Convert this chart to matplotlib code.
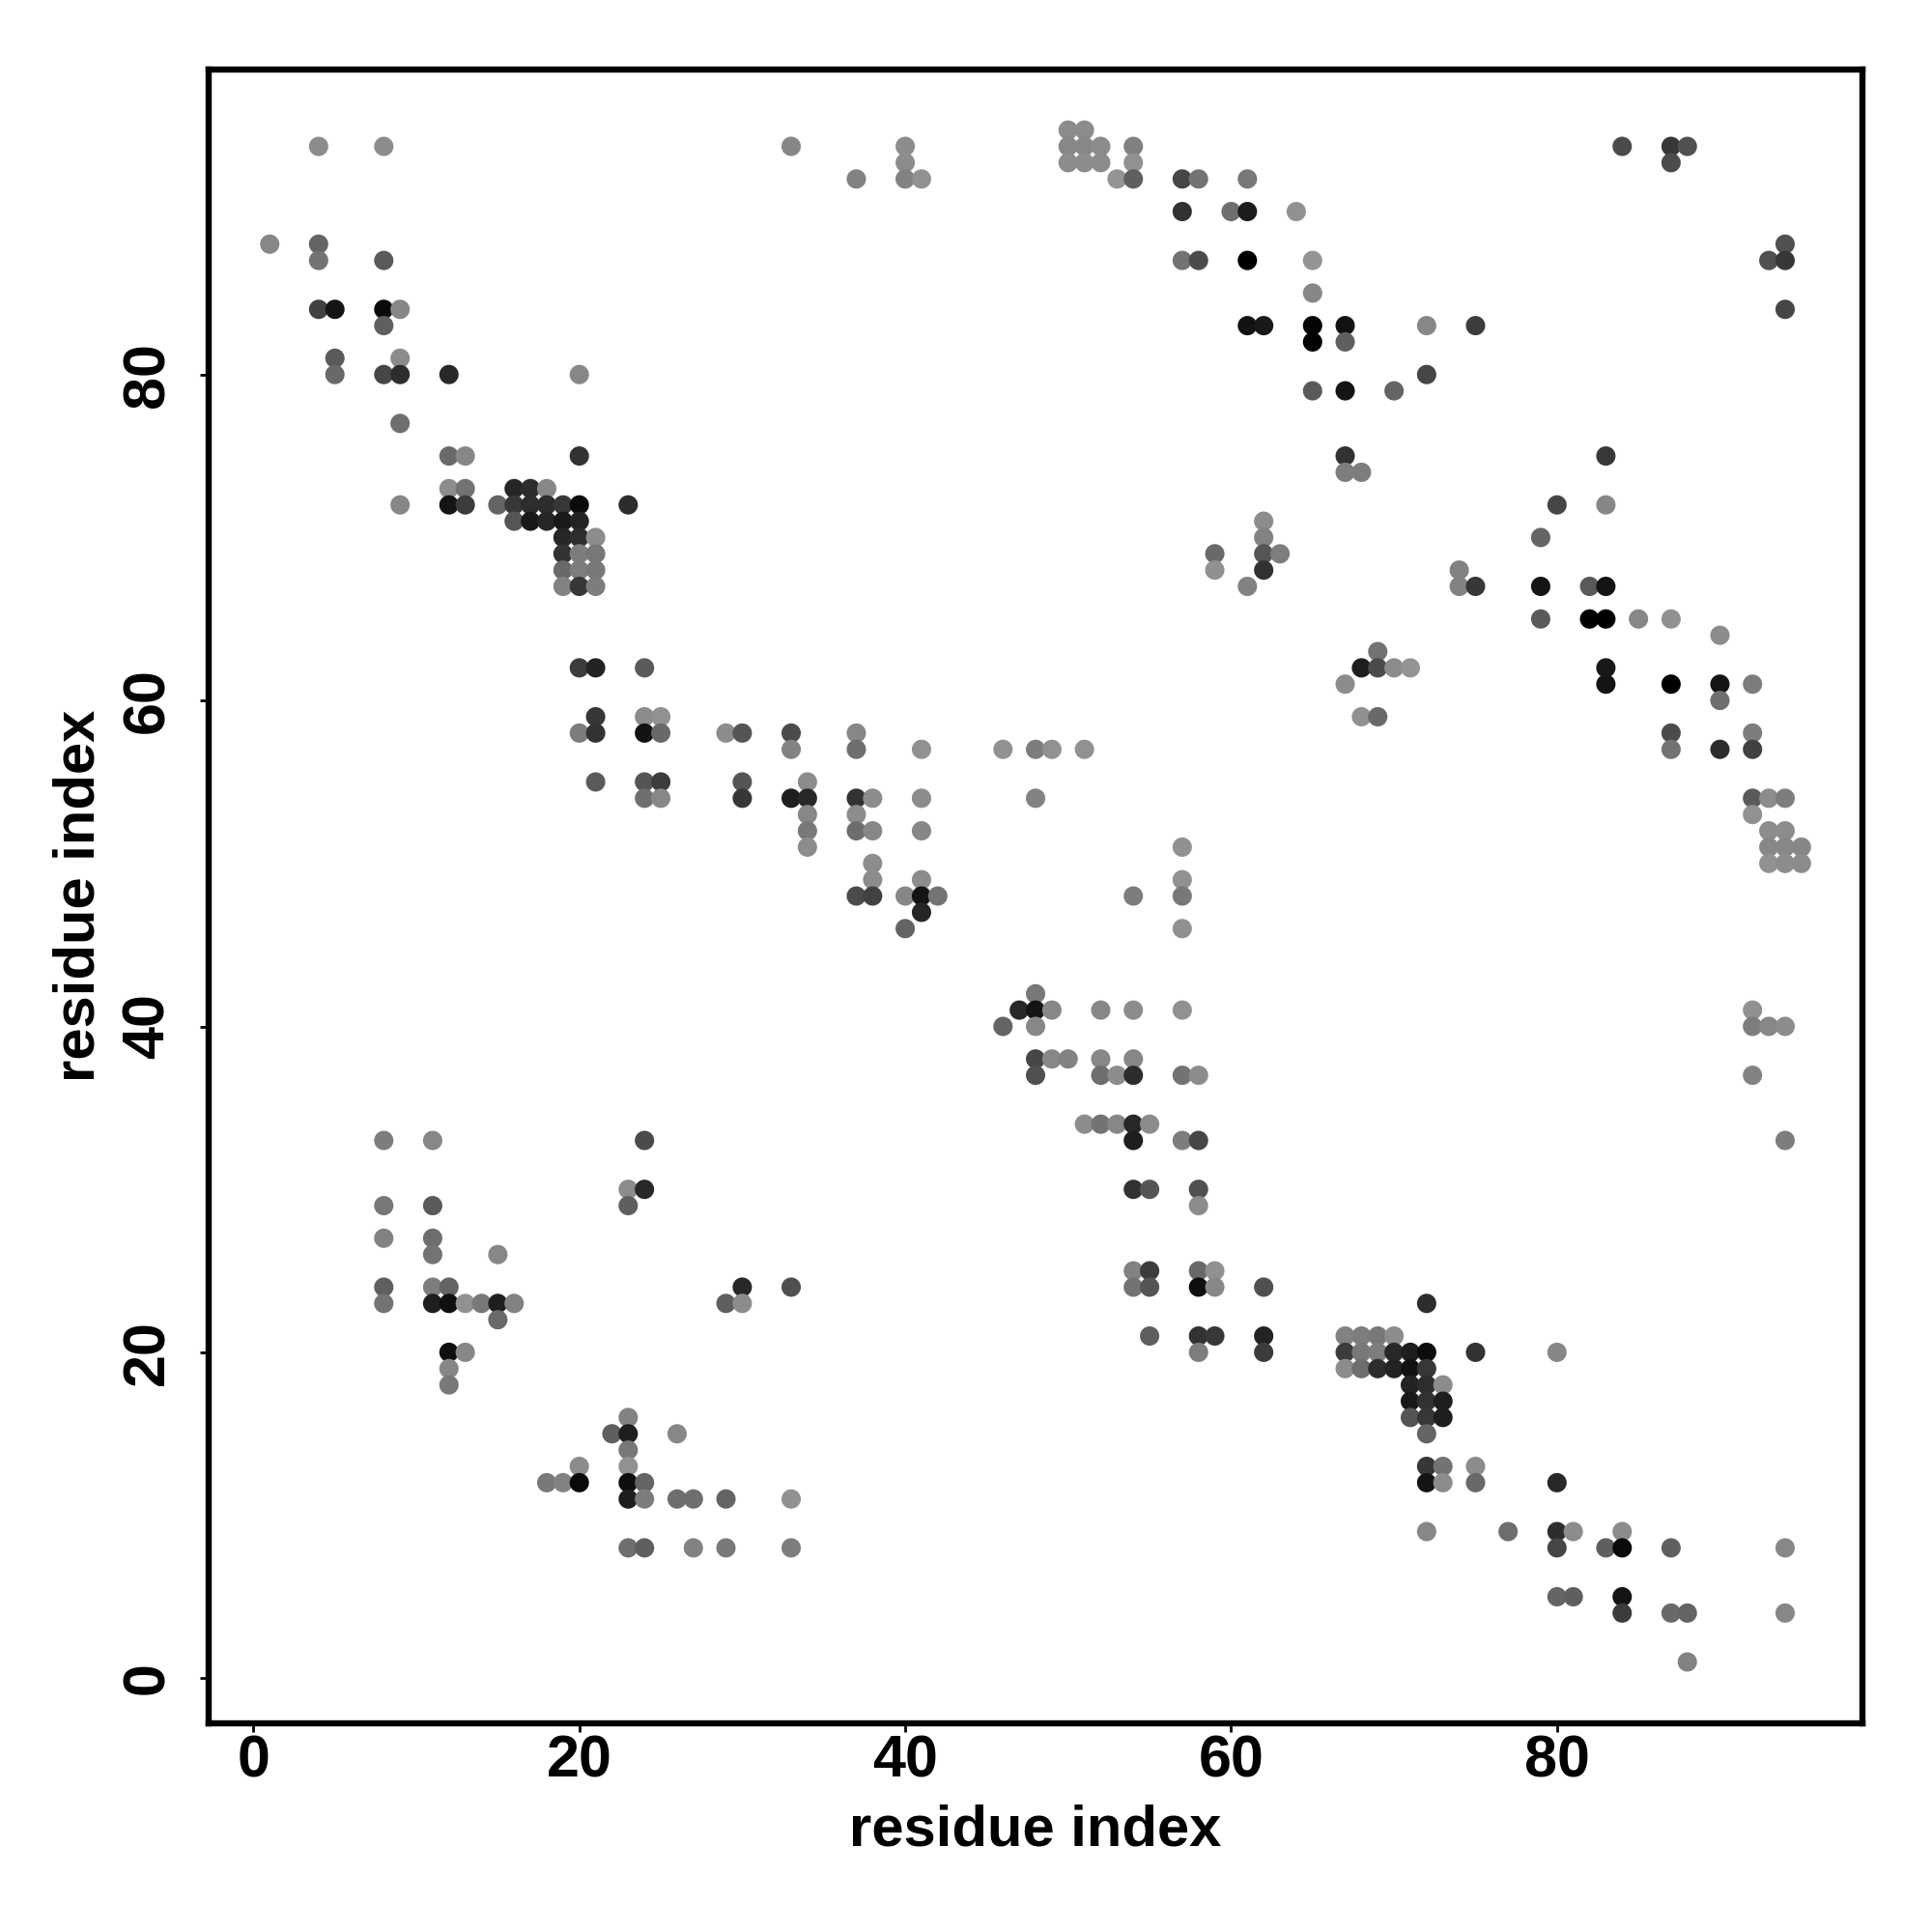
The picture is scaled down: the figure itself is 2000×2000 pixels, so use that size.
import matplotlib
matplotlib.use("Agg")
import matplotlib.pyplot as plt

row_y = [95, 94, 93, 92, 90, 88, 87, 85, 84, 83, 82, 81, 80, 79, 77, 75, 74, 73, 72, 71, 70, 69, 68, 67,
         65, 64, 63, 62, 61, 60, 59, 58, 57, 55, 54, 53, 52, 51, 50, 49, 48, 47, 46, 42, 41, 40, 38, 37,
         34, 33, 30, 29, 27, 26, 25, 24, 23, 22, 21, 20, 19, 18, 17, 16, 15, 14, 13, 12, 11, 9, 8, 5, 4, 1]

row_x = [
    [50, 51],
    [4, 8, 33, 40, 50, 51, 52, 54, 84, 87, 88],
    [40, 50, 51, 52, 54, 87],
    [37, 40, 41, 53, 54, 57, 58, 61],
    [57, 60, 61, 64],
    [1, 4, 94],
    [4, 8, 57, 58, 61, 65, 93, 94],
    [65],
    [4, 5, 8, 9, 94],
    [8, 61, 62, 65, 67, 72, 75],
    [65, 67],
    [5, 9],
    [5, 8, 9, 12, 20, 72],
    [65, 67, 70],
    [9],
    [12, 13, 20, 67, 83],
    [67, 68],
    [12, 13, 16, 17, 18],
    [9, 12, 13, 15, 16, 17, 18, 19, 20, 23, 80, 83],
    [16, 17, 18, 19, 20, 62],
    [19, 20, 21, 62, 79],
    [19, 20, 21, 59, 62, 63],
    [19, 20, 21, 59, 62, 74],
    [19, 20, 21, 61, 74, 75, 79, 82, 83],
    [79, 82, 83, 85, 87],
    [90],
    [69],
    [20, 21, 24, 68, 69, 70, 71, 83],
    [67, 83, 87, 90, 92],
    [90],
    [21, 24, 25, 68, 69],
    [20, 21, 24, 25, 29, 30, 33, 37, 87, 92],
    [33, 37, 41, 46, 48, 49, 51, 87, 90, 92],
    [21, 24, 25, 30, 34],
    [24, 25, 30, 33, 34, 37, 38, 41, 48, 92, 93, 94],
    [34, 37, 92],
    [34, 37, 38, 41, 93, 94],
    [34, 57, 93, 94, 95],
    [38, 93, 94, 95],
    [38, 41, 57],
    [37, 38, 40, 41, 42, 54, 57],
    [41],
    [40, 57],
    [48],
    [47, 48, 49, 52, 54, 57, 92],
    [46, 48, 92, 93, 94],
    [48, 49, 50, 52, 54],
    [48, 52, 53, 54, 57, 58, 92],
    [51, 52, 53, 54, 55],
    [8, 11, 24, 54, 57, 58, 94],
    [23, 24, 54, 55, 58],
    [8, 11, 23, 58],
    [8, 11],
    [11, 15],
    [54, 55, 58, 59],
    [8, 11, 12, 30, 33, 54, 55, 58, 59, 62],
    [8, 11, 12, 13, 14, 15, 16, 29, 30, 72],
    [15],
    [55, 58, 59, 62, 67, 68, 69, 70],
    [12, 13, 58, 62, 67, 68, 69, 70, 71, 72, 75, 80],
    [12, 67, 68, 69, 70, 71, 72],
    [12, 71, 72, 73],
    [71, 72, 73],
    [23, 71, 72, 73],
    [22, 23, 26, 72],
    [23],
    [20, 23, 72, 73, 75],
    [18, 19, 20, 23, 24, 72, 73, 75, 80],
    [23, 24, 26, 27, 29, 33],
    [72, 77, 80, 81, 84],
    [23, 24, 27, 29, 33, 80, 83, 84, 87, 94],
    [80, 81, 84],
    [84, 87, 88, 94],
    [88],
]

row_grey = [
    [140, 140],
    [140, 140, 135, 140, 135, 135, 140, 128, 75, 55, 80],
    [140, 140, 140, 140, 145, 75],
    [130, 130, 145, 148, 95, 70, 115, 120],
    [50, 110, 28, 145],
    [135, 100, 80],
    [115, 90, 115, 75, 0, 148, 80, 55],
    [135],
    [65, 20, 10, 135, 70],
    [95, 18, 25, 5, 18, 135, 60],
    [3, 95],
    [90, 140],
    [105, 70, 45, 40, 135, 70],
    [90, 20, 100],
    [110],
    [105, 135, 50, 50, 55],
    [125, 125],
    [140, 115, 38, 45, 135],
    [135, 20, 60, 100, 55, 45, 45, 55, 12, 45, 70, 135],
    [85, 25, 38, 25, 35, 140],
    [38, 45, 140, 130, 100],
    [50, 125, 120, 105, 85, 125],
    [105, 125, 120, 145, 50, 130],
    [130, 55, 125, 130, 130, 55, 20, 90, 20],
    [90, 0, 0, 135, 145],
    [140],
    [115],
    [60, 35, 90, 30, 75, 140, 148, 25],
    [140, 20, 0, 20, 125],
    [110],
    [55, 140, 145, 145, 105],
    [125, 50, 18, 105, 140, 85, 75, 135, 75, 125],
    [130, 110, 145, 145, 125, 145, 145, 115, 45, 65],
    [90, 85, 60, 85, 140],
    [110, 135, 55, 30, 40, 50, 140, 140, 130, 90, 140, 125],
    [135, 140, 145],
    [120, 110, 135, 135, 140, 140],
    [140, 145, 135, 135, 135],
    [140, 145, 140, 140],
    [140, 140, 145],
    [75, 65, 135, 20, 115, 125, 120],
    [38],
    [100, 145],
    [120],
    [40, 20, 135, 135, 140, 145, 145],
    [100, 135, 125, 135, 140],
    [70, 135, 130, 135, 135],
    [80, 110, 140, 45, 115, 140, 130],
    [140, 115, 135, 40, 140],
    [125, 135, 75, 30, 125, 70, 125],
    [140, 40, 50, 85, 80],
    [120, 90, 95, 140],
    [130, 110],
    [115, 135],
    [130, 60, 105, 145],
    [95, 125, 100, 40, 80, 115, 85, 15, 135, 80],
    [115, 30, 15, 145, 120, 30, 130, 95, 140, 45],
    [105],
    [95, 50, 55, 35, 130, 125, 120, 140],
    [15, 135, 125, 60, 60, 120, 125, 40, 30, 12, 50, 135],
    [135, 140, 110, 45, 35, 18, 55],
    [120, 35, 45, 140],
    [25, 50, 30],
    [130, 85, 55, 30],
    [95, 30, 135, 100],
    [120],
    [140, 145, 55, 115, 140],
    [120, 130, 10, 15, 100, 20, 140, 105, 40],
    [30, 125, 110, 110, 100, 145],
    [135, 110, 45, 140, 140],
    [110, 95, 130, 120, 125, 70, 95, 10, 95, 135],
    [100, 95, 20],
    [60, 105, 100, 135],
    [130],
]

tick_values = [0, 20, 40, 60, 80]
axis_label = "residue index"

xs, ys, cols = [], [], []
for yv, rx, rg in zip(row_y, row_x, row_grey):
    for xv, g in zip(rx, rg):
        xs.append(xv)
        ys.append(yv)
        cols.append((g / 255, g / 255, g / 255))

plt.rcParams["font.family"] = ["Liberation Sans", "DejaVu Sans"]
plt.rcParams["font.weight"] = "bold"

fig = plt.figure(figsize=(10, 10), dpi=200, facecolor="white")
ax = fig.add_axes([0.10815, 0.10815, 0.8558, 0.8559])
ax.scatter(xs, ys, c=cols, s=52, linewidths=0, zorder=3)

ax.set_xlim(-2.73, 98.74)
ax.set_ylim(-2.75, 98.72)
ax.set_xticks(tick_values)
ax.set_yticks(tick_values)
ax.tick_params(axis="both", length=3.2, width=1.0, labelsize=22)
ax.tick_params(axis="x", pad=1.2)
ax.tick_params(axis="y", pad=9)
for lab in ax.get_yticklabels():
    lab.set_rotation(90)
    lab.set_va("center")
for sp in ax.spines.values():
    sp.set_linewidth(2.3)

fig.text(0.5357, 0.0527, axis_label, ha="center", va="center", fontsize=21.5, fontweight="bold")
fig.text(0.0408, 0.5363, axis_label, ha="center", va="center", rotation=90, fontsize=21.5, fontweight="bold")

fig.savefig("out.png", dpi=200, facecolor="white")
